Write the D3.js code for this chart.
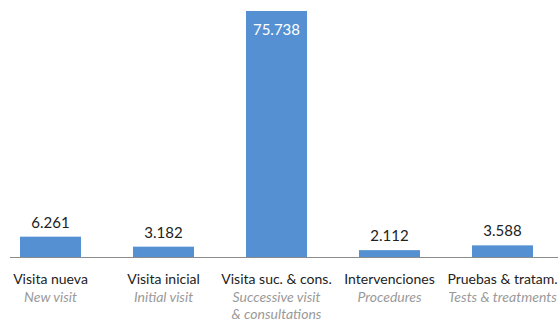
<!DOCTYPE html>
<html>
<head>
<meta charset="utf-8">
<script src="https://cdn.jsdelivr.net/npm/d3@7"></script>
<style>
  body { margin: 0; background: #fff; }
  svg { display: block; font-family: Lato, sans-serif; }
</style>
</head>
<body>
<svg id="chart"></svg>
<script>
var categories = ["Visita nueva", "Visita inicial", "Visita suc. & cons.", "Intervenciones", "Pruebas & tratam."];
var subLabels = [["New visit"], ["Initial visit"], ["Successive visit", "& consultations"], ["Procedures"], ["Tests & treatments"]];
var values = [6.261, 3.182, 75.738, 2.112, 3.588];

var width = 560,
    height = 323,
    baseline = 257;

var svg = d3.select("#chart")
  .attr("width", width)
  .attr("height", height);

var x = d3.scaleBand()
  .domain(categories)
  .range([-6, 559])
  .paddingInner(0.46)
  .paddingOuter(0.23);

var y = d3.scaleLinear()
  .domain([0, 75.738])
  .range([baseline, 11]);

function fmt(v) {
  return v.toFixed(3);
}

var bars = svg.append("g").selectAll("rect")
  .data(values)
.enter().append("rect")
  .attr("x", function(d, i) { return x(categories[i]); })
  .attr("y", function(d) { return y(d); })
  .attr("width", x.bandwidth())
  .attr("height", function(d) { return baseline - y(d); })
  .attr("fill", "#5591d2");

// axis line
svg.append("line")
  .attr("x1", 10).attr("x2", 558)
  .attr("y1", baseline + 0.5).attr("y2", baseline + 0.5)
  .attr("stroke", "#8c8c8c")
  .attr("stroke-width", 1);

// value labels: inside the tall bar, above the others
svg.append("g").selectAll("text")
  .data(values)
.enter().append("text")
  .attr("x", function(d, i) { return x(categories[i]) + x.bandwidth() / 2; })
  .attr("y", function(d) { return d > 40 ? y(d) + 24 : y(d) - 9; })
  .attr("text-anchor", "middle")
  .attr("font-size", 15)
  .attr("fill", function(d) { return d > 40 ? "#fff" : "#222"; })
  .text(fmt);

// category labels
var labels = svg.append("g").selectAll("g")
  .data(categories)
.enter().append("g")
  .attr("transform", function(d) { return "translate(" + (x(d) + x.bandwidth() / 2) + ",0)"; });

labels.append("text")
  .attr("y", 284)
  .attr("text-anchor", "middle")
  .attr("font-size", 14)
  .attr("fill", "#222")
  .text(function(d) { return d; });

labels.each(function(d, i) {
  d3.select(this).selectAll("text.sub")
    .data(subLabels[i])
  .enter().append("text")
    .attr("class", "sub")
    .attr("y", function(s, j) { return 302 + j * 17; })
    .attr("text-anchor", "middle")
    .attr("font-size", 14)
    .attr("font-style", "italic")
    .attr("fill", "#9a9a9a")
    .text(function(s) { return s; });
});
</script>
</body>
</html>
